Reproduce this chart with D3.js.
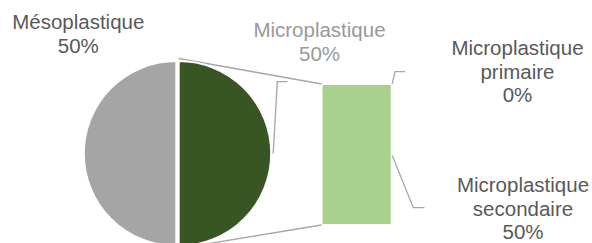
<!DOCTYPE html>
<html>
<head>
<meta charset="utf-8">
<script src="https://cdn.jsdelivr.net/npm/d3@7"></script>
<style>
  html, body { margin: 0; padding: 0; background: #fff; }
  svg { display: block; }
  text { font-family: "Liberation Sans", Arial, sans-serif; font-size: 20.5px; }
</style>
</head>
<body>
<svg id="chart" width="592" height="243"></svg>
<script>
// ---- Data ----
const pieCategories = ["Microplastique", "Mésoplastique"];
const pieValues = [50, 50];
const pieLabels = ["Microplastique\n50%", "Mésoplastique\n50%"];
const barCategories = ["Microplastique secondaire", "Microplastique primaire"];
const barValues = [50, 0];
const barLabels = ["Microplastique\nsecondaire\n50%", "Microplastique\nprimaire\n0%"];

// ---- Layout ----
const svg = d3.select("#chart");
const r = 92.5;
const cx = 177.5, cy = 153.5;
const explode = 1.2;
const barX0 = 322.5, barX1 = 390.7, barTop = 85, barBottom = 224;
const lineColor = "#a6a6a6";
const textDark = "#595959";

const pieColor = d3.scaleOrdinal().domain(pieCategories).range(["#375623", "#a5a5a5"]);
const barColor = d3.scaleOrdinal().domain(barCategories).range(["#a9d18e", "#a9d18e"]);

// pie
const pie = d3.pie().sort(null).value(d => d.value)
  .startAngle(0).endAngle(2 * Math.PI);
const arcs = pie(pieCategories.map((c, i) => ({ cat: c, value: pieValues[i], label: pieLabels[i] })));
const arc = d3.arc().innerRadius(0).outerRadius(r);
const shiftX = d => explode * Math.sin((d.startAngle + d.endAngle) / 2) / Math.abs(Math.sin((d.startAngle + d.endAngle) / 2) || 1);

// bar stack
const total = d3.sum(barValues);
const y = d3.scaleLinear().domain([0, total]).range([barBottom, barTop]);
let acc = 0;
const segs = barCategories.map((c, i) => {
  const s = { cat: c, y0: acc, y1: acc + barValues[i], label: barLabels[i] };
  acc += barValues[i];
  return s;
});

// connector lines (behind pie)
const micro = arcs[0];
const gcx = cx + shiftX(micro);
const off = 2.5;
svg.append("line")
  .attr("x1", gcx).attr("y1", cy - r - off)
  .attr("x2", barX0 - 1).attr("y2", y(total) - 1)
  .attr("stroke", lineColor).attr("stroke-width", 1.3);
svg.append("line")
  .attr("x1", gcx).attr("y1", cy + r + off)
  .attr("x2", barX0 - 1).attr("y2", y(0) + 1)
  .attr("stroke", lineColor).attr("stroke-width", 1.3);

// pie slices
svg.append("g").selectAll("path").data(arcs).join("path")
  .attr("transform", d => `translate(${cx + shiftX(d)},${cy})`)
  .attr("d", arc)
  .attr("fill", d => pieColor(d.data.cat))
  .attr("stroke", "#fff").attr("stroke-width", 2);

// bar segments
svg.append("g").selectAll("rect").data(segs).join("rect")
  .attr("x", barX0).attr("width", barX1 - barX0)
  .attr("y", d => y(d.y1)).attr("height", d => y(d.y0) - y(d.y1))
  .attr("fill", d => barColor(d.cat));

// leader lines
function leader(pts) {
  svg.append("path").attr("d", d3.line()(pts))
    .attr("fill", "none").attr("stroke", lineColor).attr("stroke-width", 1.3);
}
// pie "Microplastique" leader
leader([[gcx + r + 2, cy], [277.3, 81.7], [287.5, 81.7]]);
// primaire leader (top of bar)
const sPrim = segs[1], sSec = segs[0];
leader([[barX1 + 1.5, y((sPrim.y0 + sPrim.y1) / 2) - 1], [395, 71.7], [405, 71.7]]);
// secondaire leader (middle of its segment)
leader([[barX1 + 1.5, y((sSec.y0 + sSec.y1) / 2) + 1], [413.3, 207.7], [424.5, 207.7]]);

// labels
function label(lines, x, y0, color, lh) {
  const t = svg.append("text").attr("text-anchor", "middle").attr("fill", color);
  lines.forEach((l, i) => t.append("tspan").attr("x", x).attr("y", y0 + i * lh).text(l));
}
label(arcs[1].data.label.split("\n"), 78.3, 28.8, textDark, 24.5);
label(arcs[0].data.label.split("\n"), 319.5, 36.8, "#999999", 24.5);
label(sPrim.label.split("\n"), 517.5, 55, textDark, 23.5);
label(sSec.label.split("\n"), 523, 192, textDark, 23.7);
</script>
</body>
</html>
